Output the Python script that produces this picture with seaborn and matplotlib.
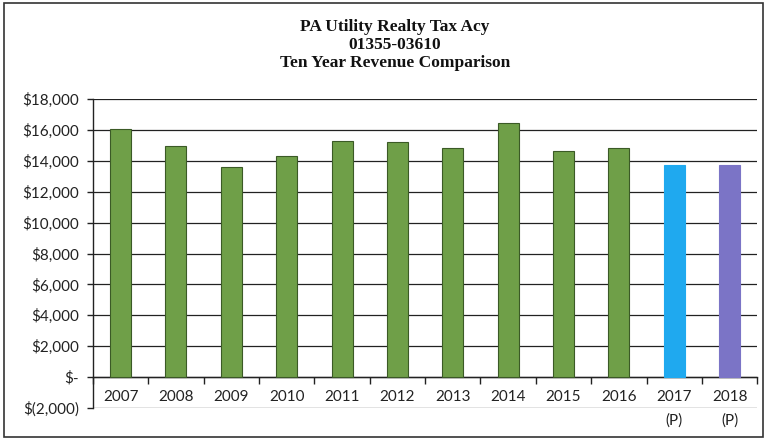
import matplotlib
matplotlib.use("Agg")
import matplotlib.pyplot as plt
import matplotlib.patches as mpatches
import matplotlib.ticker as mticker
import numpy as np
import pandas as pd
import seaborn as sns

# Revenue by year (2017 and 2018 are projections)
years = ["2007", "2008", "2009", "2010", "2011", "2012",
         "2013", "2014", "2015", "2016", "2017", "2018"]
tick_labels = ["2007", "2008", "2009", "2010", "2011", "2012",
               "2013", "2014", "2015", "2016", "2017\n(P)", "2018\n(P)"]
revenue = [16050, 14950, 13600, 14300, 15300, 15200,
           14800, 16450, 14650, 14800, 13750, 13750]
bar_colors = ["#6f9f48"] * 10 + ["#1fa9ef", "#7b74c6"]
title_lines = ["PA Utility Realty Tax Acy", "01355-03610", "Ten Year Revenue Comparison"]

sns.set_theme(style="white")
plt.rcParams["font.family"] = ["Lato", "DejaVu Sans"]

df = pd.DataFrame({"year": years, "revenue": revenue})

fig = plt.figure(figsize=(7.68, 4.4), dpi=100)
ax = fig.add_axes([0.121, 0.0727, 0.865, 0.7023])

sns.barplot(data=df, x="year", y="revenue", hue="year", palette=bar_colors,
            order=years, hue_order=years, legend=False, width=0.38, saturation=1,
            edgecolor="#3b5a26", linewidth=0.8, ax=ax, zorder=3)
# keep projection bars outlined in their own hue
for patch, c in zip(ax.patches, bar_colors):
    if c != "#6f9f48":
        patch.set_edgecolor(c)

ax.set_ylim(-2000, 18000)
ax.set_xlim(-0.5, len(years) - 0.5)
ax.set_yticks(np.arange(-2000, 18001, 2000))


def money(v, pos=None):
    if v == 0:
        return "$-"
    if v < 0:
        return "$({:,.0f})".format(-v)
    return "${:,.0f}".format(v)


ax.yaxis.set_major_formatter(mticker.FuncFormatter(money))
ax.grid(axis="y", color="#222222", linewidth=0.9, zorder=0)
ax.grid(axis="x", visible=False)
ax.set_axisbelow(True)

# category axis drawn at zero, with tick marks between categories
ax.spines["bottom"].set_position(("data", 0))
ax.spines["bottom"].set_color("#222222")
ax.spines["bottom"].set_linewidth(1.0)
ax.spines["left"].set_color("#222222")
ax.spines["left"].set_linewidth(1.0)
ax.spines["top"].set_visible(False)
ax.spines["right"].set_visible(False)

ax.set_xticks(range(len(years)))
ax.set_xticklabels(tick_labels)
ax.set_xticks(np.arange(-0.5, len(years), 1.0), minor=True)
ax.tick_params(axis="x", which="major", length=0, pad=9, labelsize=11, colors="#222222")
ax.tick_params(axis="x", which="minor", length=5, width=1, color="#222222", direction="out", bottom=True)
ax.tick_params(axis="y", which="major", length=4, width=1, color="#222222", left=True,
               labelsize=11, labelcolor="#222222", pad=6)
for lbl in ax.get_xticklabels():
    lbl.set_linespacing(1.85)
ax.set_xlabel("")
ax.set_ylabel("")

# title block
for i, line in enumerate(title_lines):
    fig.text(0.514, 1 - (27 + 18 * i) / 440, line, ha="center", va="center",
             family=["Liberation Serif", "DejaVu Serif"], fontweight="bold",
             fontsize=12.5, color="#111111")

# outer chart border
fig.patches.append(mpatches.Rectangle((4 / 768, 3 / 440), 759 / 768, 434 / 440,
                                      transform=fig.transFigure, fill=False,
                                      edgecolor="#333333", linewidth=1.2))

fig.savefig("out.png", dpi=100)
